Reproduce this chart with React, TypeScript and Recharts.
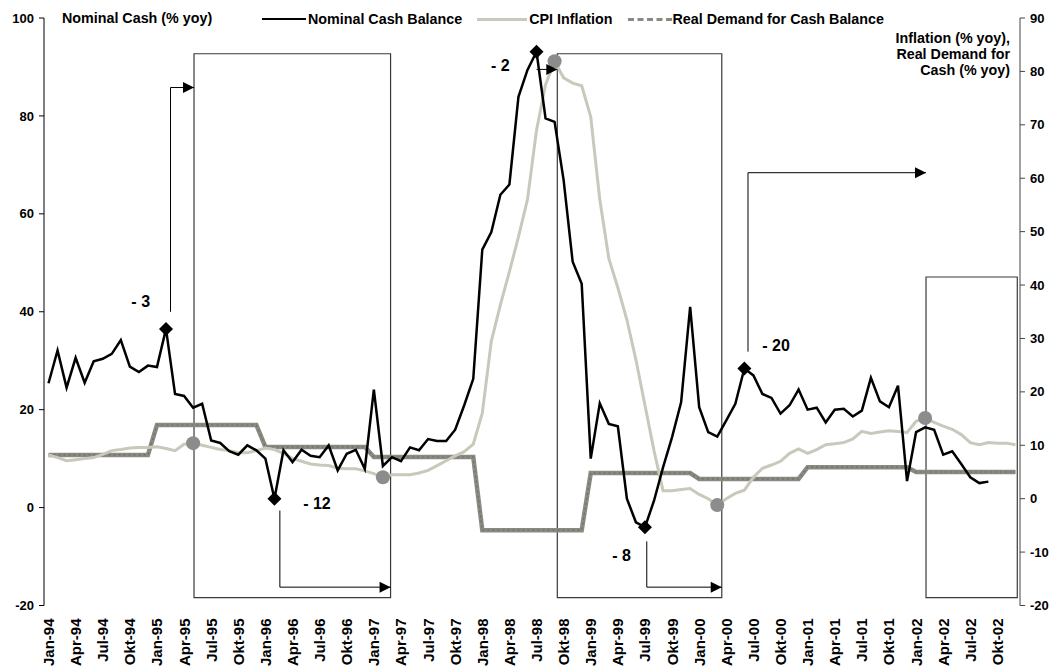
import React from 'react';
import {
  LineChart,
  Line,
  XAxis,
  YAxis,
  ReferenceArea,
  ReferenceLine,
  ReferenceDot,
} from 'recharts';

// month tick labels, every third month from Jan-94
const tickLabels = [
  'Jan-94', 'Apr-94', 'Jul-94', 'Okt-94',
  'Jan-95', 'Apr-95', 'Jul-95', 'Okt-95',
  'Jan-96', 'Apr-96', 'Jul-96', 'Okt-96',
  'Jan-97', 'Apr-97', 'Jul-97', 'Okt-97',
  'Jan-98', 'Apr-98', 'Jul-98', 'Okt-98',
  'Jan-99', 'Apr-99', 'Jul-99', 'Okt-99',
  'Jan-00', 'Apr-00', 'Jul-00', 'Okt-00',
  'Jan-01', 'Apr-01', 'Jul-01', 'Okt-01',
  'Jan-02', 'Apr-02', 'Jul-02', 'Okt-02',
];

// Nominal cash balance, % yoy (left axis), Jan-94 .. Sep-02
const nominalCash = [
  25.4, 32.1, 24.5, 30.6, 25.5, 29.9, 30.4, 31.4, 34.2, 28.8, 27.7, 29.0,
  28.7, 36.5, 23.2, 22.8, 20.4, 21.2, 13.7, 13.2, 11.5, 10.8, 12.7, 11.7,
  10.0, 1.8, 11.7, 9.3, 11.8, 10.6, 10.3, 12.7, 7.6, 11.0, 11.8, 7.9,
  24.1, 8.5, 10.3, 9.5, 12.3, 11.7, 14.0, 13.6, 13.6, 15.9, 20.9, 26.3,
  52.7, 56.3, 63.9, 66.0, 83.9, 89.4, 93.1, 79.5, 78.8, 66.9, 50.2, 45.7,
  10.0, 21.3, 17.1, 16.6, 1.8, -3.0, -4.0, 1.4, 8.2, 14.4, 21.5, 41.0,
  20.5, 15.4, 14.5, 17.8, 21.2, 28.4, 27.0, 23.2, 22.4, 19.2, 20.9, 24.1,
  20.0, 20.4, 17.4, 20.0, 20.2, 18.6, 19.8, 26.5, 21.7, 20.5, 24.9, 5.4,
  15.4, 16.4, 15.9, 10.8, 11.5, 8.9, 6.2, 5.0, 5.3,
];

// CPI inflation, % yoy (right axis), Jan-94 .. Dec-02
const cpiInflation = [
  8.2, 7.7, 7.1, 7.3, 7.5, 7.7, 8.3, 9.0, 9.2, 9.5, 9.6, 9.6,
  9.7, 9.4, 9.0, 10.2, 10.4, 10.0, 9.6, 9.2, 9.0, 8.6, 8.6, 9.0,
  9.5, 9.2, 8.5, 7.5, 7.0, 6.5, 6.3, 6.2, 5.7, 5.6, 5.6, 5.2,
  4.7, 4.0, 4.5, 4.5, 4.5, 4.8, 5.3, 6.2, 7.1, 8.0, 8.8, 10.2,
  16.0, 29.5, 36.3, 42.5, 49.0, 56.0, 69.0, 77.5, 81.9, 78.8, 77.8, 77.3,
  71.5, 56.0, 45.0, 39.5, 33.5, 26.0, 17.5, 9.0, 1.5, 1.5, 1.7, 1.9,
  0.8, 0.0, -1.2, 0.0, 1.0, 1.6, 4.0, 5.7, 6.3, 7.0, 8.5, 9.3,
  8.5, 9.2, 10.1, 10.3, 10.5, 11.2, 12.6, 12.2, 12.5, 12.7, 12.6, 12.4,
  14.5, 15.1, 14.3, 13.6, 13.0, 12.0, 10.5, 10.1, 10.5, 10.4, 10.4, 10.1,
];

// Real demand for cash balance, % yoy (right axis), one value per year 1994..2002
const realDemandByYear = [8.2, 13.8, 9.7, 7.8, -5.9, 4.8, 3.7, 5.9, 5.0];

// highlighted points (month index)
const nominalMarks = [13, 25, 54, 66, 77];
const cpiMarks = [16, 37, 56, 74, 97];

// lag annotations
const lagTexts = ['- 3', '- 12', '- 2', '- 8', '- 20'];
const lagTextX = [10.2, 29.7, 50.0, 63.4, 80.5];
const lagTextY = [42.1, 0.8, 90.2, -9.8, 33.2];

const boxes = [
  { x1: 16.1, x2: 37.85, y1: -18.4, y2: 92.7 },
  { x1: 56.3, x2: 74.5, y1: -18.4, y2: 92.7 },
  { x1: 97.1, x2: 107.2, y1: -18.4, y2: 47.1 },
];

const arrows = [
  [{ x: 13.5, y: 40.0 }, { x: 13.5, y: 85.8 }, { x: 16.1, y: 85.8 }],
  [{ x: 25.6, y: -0.6 }, { x: 25.6, y: -16.25 }, { x: 37.85, y: -16.25 }],
  [{ x: 54.0, y: 89.5 }, { x: 56.3, y: 89.5 }],
  [{ x: 66.2, y: -6.9 }, { x: 66.2, y: -16.25 }, { x: 74.5, y: -16.25 }],
  [{ x: 77.4, y: 31.85 }, { x: 77.4, y: 68.4 }, { x: 97.1, y: 68.4 }],
];

const data = cpiInflation.map((cpi, i) => ({
  i,
  nominal: i < nominalCash.length ? nominalCash[i] : null,
  cpi,
  real: realDemandByYear[Math.floor(i / 12)],
}));

const FONT = '"Liberation Sans", Arial, Helvetica, sans-serif';
const tickStyle = { fill: '#000', fontSize: 13, fontWeight: 700, fontFamily: FONT };
const monthStyle = { fill: '#000', fontSize: 15, fontWeight: 700, fontFamily: FONT };

function MonthTick(props: any) {
  const { x, y, payload } = props;
  const yy = y + 11;
  return (
    <text
      x={x}
      y={yy}
      transform={`rotate(-90, ${x}, ${yy})`}
      textAnchor="end"
      dominantBaseline="central"
      style={monthStyle}
    >
      {tickLabels[Math.round(payload.value / 3)]}
    </text>
  );
}

function NominalDot(props: any) {
  const { cx, cy, payload } = props;
  if (!nominalMarks.includes(payload.i) || cx == null) return <g key={`nd${payload.i}`} />;
  const s = 7;
  return (
    <polygon
      key={`nd${payload.i}`}
      points={`${cx},${cy - s} ${cx + s},${cy} ${cx},${cy + s} ${cx - s},${cy}`}
      fill="#000"
    />
  );
}

function CpiDot(props: any) {
  const { cx, cy, payload } = props;
  if (!cpiMarks.includes(payload.i)) return <g key={`cd${payload.i}`} />;
  return <circle key={`cd${payload.i}`} cx={cx} cy={cy} r={7} fill="#8c8c8c" />;
}

const arrowHead = (p: any) => (
  <polygon
    points={`${p.cx - 11},${p.cy - 5.5} ${p.cx},${p.cy} ${p.cx - 11},${p.cy + 5.5}`}
    fill="#000"
  />
);

const textBlock = { fontSize: 14.3, fontWeight: 700, lineHeight: '16px', whiteSpace: 'nowrap' as const };

export default function App() {
  return (
    <div style={{ position: 'absolute', left: 0, top: 0, width: 1060, height: 668, fontFamily: FONT }}>
      <LineChart
        width={1060}
        height={668}
        data={data}
        margin={{ top: 18, right: 0, bottom: 7.5, left: 0 }}
      >
        <XAxis
          type="number"
          dataKey="i"
          domain={[-0.5, 107.5]}
          ticks={tickLabels.map((_, k) => k * 3)}
          interval={0}
          axisLine={false}
          tickLine={false}
          tickSize={0}
          height={55}
          tick={<MonthTick />}
        />
        <YAxis
          yAxisId="left"
          domain={[-20, 100]}
          ticks={[-20, 0, 20, 40, 60, 80, 100]}
          width={44}
          stroke="#000"
          tickSize={5}
          tickMargin={5}
          tick={tickStyle}
        />
        <YAxis
          yAxisId="right"
          orientation="right"
          domain={[-20, 90]}
          ticks={[-20, -10, 0, 10, 20, 30, 40, 50, 60, 70, 80, 90]}
          width={40}
          stroke="#444"
          tickSize={5}
          tickMargin={5}
          tick={tickStyle}
        />

        {boxes.map((b, k) => (
          <ReferenceArea
            key={`box${k}`}
            yAxisId="left"
            x1={b.x1}
            x2={b.x2}
            y1={b.y1}
            y2={b.y2}
            fill="none"
            fillOpacity={0}
            stroke="#3a3a3a"
            strokeWidth={1.2}
            ifOverflow="visible"
          />
        ))}

        <Line
          yAxisId="right"
          type="linear"
          dataKey="real"
          stroke="#8b8a82"
          strokeWidth={4.5}
          dot={false}
          isAnimationActive={false}
        />
        <Line
          yAxisId="right"
          type="linear"
          dataKey="real"
          stroke="#6f6d66"
          strokeWidth={1.2}
          strokeDasharray="2 3"
          dot={false}
          legendType="none"
          isAnimationActive={false}
        />
        <Line
          yAxisId="right"
          type="linear"
          dataKey="cpi"
          stroke="#c9c8bb"
          strokeWidth={3}
          dot={CpiDot}
          isAnimationActive={false}
        />
        <Line
          yAxisId="left"
          type="linear"
          dataKey="nominal"
          stroke="#000"
          strokeWidth={2.5}
          dot={NominalDot}
          isAnimationActive={false}
        />

        {arrows.map((a, k) =>
          a.slice(1).map((pt, j) => (
            <ReferenceLine
              key={`ar${k}-${j}`}
              yAxisId="left"
              segment={[a[j], pt]}
              stroke="#000"
              strokeWidth={1}
              ifOverflow="visible"
            />
          ))
        )}
        {arrows.map((a, k) => (
          <ReferenceDot
            key={`ah${k}`}
            yAxisId="left"
            x={a[a.length - 1].x}
            y={a[a.length - 1].y}
            ifOverflow="visible"
            shape={arrowHead}
          />
        ))}
        {lagTexts.map((t, k) => (
          <ReferenceDot
            key={`lt${k}`}
            yAxisId="left"
            x={lagTextX[k]}
            y={lagTextY[k]}
            ifOverflow="visible"
            shape={(p: any) => (
              <text
                x={p.cx}
                y={p.cy}
                textAnchor="middle"
                dominantBaseline="central"
                style={{ fontSize: 16, fontWeight: 700, fontFamily: FONT, fill: '#000' }}
              >
                {t}
              </text>
            )}
          />
        ))}
      </LineChart>

      {/* axis titles */}
      <div style={{ ...textBlock, position: 'absolute', left: 62, top: 10 }}>
        Nominal Cash (% yoy)
      </div>
      <div style={{ ...textBlock, position: 'absolute', right: 1060 - 1010, top: 30, textAlign: 'right' }}>
        Inflation (% yoy),
        <br />
        Real Demand for
        <br />
        Cash (% yoy)
      </div>

      {/* legend */}
      <div style={{ ...textBlock, position: 'absolute', left: 262, top: 11, height: 16, display: 'flex', alignItems: 'center' }}>
        <span style={{ display: 'inline-block', width: 44, height: 0, borderTop: '2.5px solid #000', marginRight: 2 }} />
        <span>Nominal Cash Balance</span>
        <span style={{ display: 'inline-block', width: 50, height: 0, borderTop: '3px solid #c9c8bb', marginLeft: 15, marginRight: 2 }} />
        <span>CPI Inflation</span>
        <span style={{ display: 'inline-block', width: 44, height: 0, borderTop: '3.5px dashed #8b8a82', marginLeft: 15, marginRight: 1 }} />
        <span>Real Demand for Cash Balance</span>
      </div>
    </div>
  );
}
